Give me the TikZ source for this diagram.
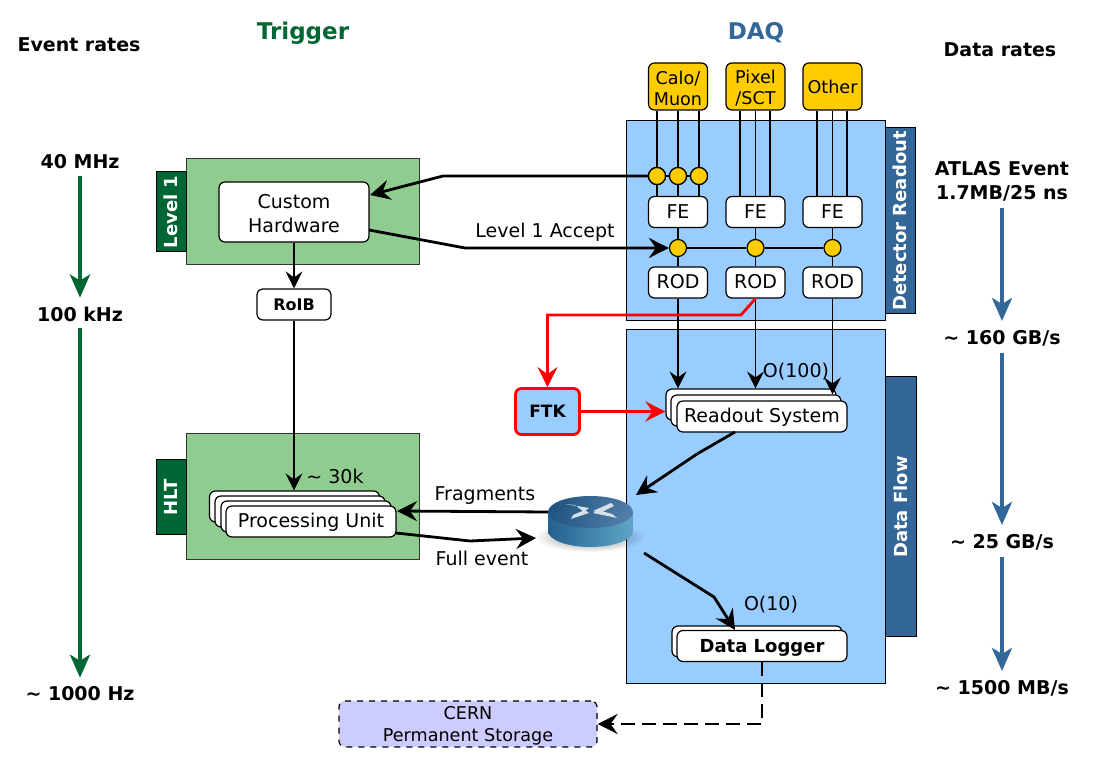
\documentclass[tikz,border=0pt]{standalone}
\usepackage{xcolor}
\usepackage{fontspec}
\setmainfont{DejaVu Sans}
\usetikzlibrary{arrows.meta,fadings}
\definecolor{panelblue}{HTML}{99CCFF}
\definecolor{panelgreen}{HTML}{90CC90}
\definecolor{tabgreen}{HTML}{006633}
\definecolor{tabblue}{HTML}{336699}
\definecolor{chipyellow}{HTML}{FFCC00}
\definecolor{storelilac}{HTML}{CCCCFF}
\definecolor{routerlight}{HTML}{5FA6C6}
\definecolor{routerdark}{HTML}{24608F}
\tikzfading[name=routerfuzz,inner color=transparent!50,outer color=transparent!100]
\newcommand{\txt}{\fontsize{9.5}{12}\selectfont}
\tikzset{
  box/.style={draw=black,fill=white,rounded corners=3pt,inner sep=0pt,line width=0.6pt,align=center,font=\txt},
  srcbox/.style={box,fill=chipyellow,minimum width=29.5pt,minimum height=23.5pt,font=\fontsize{8.8}{10.5}\selectfont},
  febox/.style={box,minimum width=29.5pt,minimum height=15.5pt,text height=7.5pt,text depth=1pt},
  joint/.style={circle,draw=black,fill=chipyellow,inner sep=0pt,minimum size=8.5pt,line width=0.6pt},
  stackbox/.style={box,minimum width=85pt,minimum height=15.5pt,text height=7.5pt,text depth=1pt},
  bluepanel/.style={draw=black,fill=panelblue,line width=0.5pt},
  greenpanel/.style={draw=black!80,fill=panelgreen,line width=0.5pt},
  sidetab/.style={draw=black,line width=0.5pt,text=white,font=\fontsize{9}{11}\selectfont\bfseries,rotate=90,inner sep=0pt},
  rate/.style={font=\txt\bfseries},
  thin arrow/.style={line width=0.6pt,-{Stealth[length=8.5pt,width=8.5pt,inset=3pt]}},
  thick arrow/.style={line width=1.4pt,-{Stealth[length=10pt,width=10pt,inset=3.5pt]}},
  red arrow/.style={red,line width=1.4pt,-{Stealth[length=10pt,width=10pt,inset=3.5pt]}},
  rate arrow/.style={line width=2pt,shorten >=1pt,-{Stealth[length=11.5pt,width=10pt,inset=3pt]}},
}
\begin{document}
\begin{tikzpicture}[x=0.5pt,y=-0.5pt]
\useasboundingbox (0,0) rectangle (1100,764);
% panels
\draw[bluepanel] (626,121) rectangle (885,321);
\draw[bluepanel] (626,330) rectangle (885,684);
\draw[greenpanel] (186,159) rectangle (419,265);
\draw[greenpanel] (186,434) rectangle (419,560);
\node[sidetab,fill=tabblue,minimum width=93pt,minimum height=15pt] (readouttab) at (900,221) {Detector Readout};
\node[sidetab,fill=tabblue,minimum width=130pt,minimum height=15.5pt] (flowtab) at (900.5,507) {Data Flow};
\node[sidetab,fill=tabgreen,minimum width=40pt,minimum height=15pt] (level1tab) at (171,212) {Level 1};
\node[sidetab,fill=tabgreen,minimum width=37.5pt,minimum height=15pt] (hlttab) at (171,497.5) {HLT};
% titles and rates
\node[font=\fontsize{11.5}{14}\selectfont\bfseries,text=tabgreen] (trigger) at (303,33) {Trigger};
\node[font=\fontsize{11.5}{14}\selectfont\bfseries,text=tabblue] (daq) at (756,33) {DAQ};
\node[rate] (eventrates) at (79,45) {Event rates};
\node[rate] (datarates) at (1000,50) {Data rates};
\node[rate] (r40) at (80,162) {40 MHz};
\node[rate] (r100) at (80,314) {100 kHz};
\node[rate] (r1000) at (80,694) {\textasciitilde{} 1000 Hz};
\node[rate,align=center,text height=20pt] (atlas) at (1002,180) {ATLAS Event\\1.7MB/25 ns};
\node[rate] (r160) at (1002,338) {\textasciitilde{} 160 GB/s};
\node[rate] (r25) at (1002,542) {\textasciitilde{} 25 GB/s};
\node[rate] (r1500) at (1002,688) {\textasciitilde{} 1500 MB/s};
\draw[rate arrow,tabgreen] (r40.south) -- (r100.north);
\draw[rate arrow,tabgreen] (r100.south) -- (r1000.north);
\draw[rate arrow,tabblue] (atlas.south) -- (r160.north);
\draw[rate arrow,tabblue] (r160.south) -- (r25.north);
\draw[rate arrow,tabblue] (r25.south) -- (r1500.north);
% readout chain
\node[srcbox,text height=19pt] (calo) at (678,86.5) {Calo/\\Muon};
\node[srcbox,text height=19pt] (pixel) at (755.5,86.5) {Pixel\\/SCT};
\node[srcbox] (other) at (832.5,86.5) {Other};
\node[febox] (fe1) at (678,212) {FE};
\node[febox] (fe2) at (755.5,212) {FE};
\node[febox] (fe3) at (832.5,212) {FE};
\node[febox] (rod1) at (678,282.5) {ROD};
\node[febox] (rod2) at (755.5,282.5) {ROD};
\node[febox] (rod3) at (832.5,282.5) {ROD};
\node[joint] (c1) at (657,176) {};
\node[joint] (c2) at (678,176) {};
\node[joint] (c3) at (699,176) {};
\node[joint] (m1) at (678,248) {};
\node[joint] (m2) at (755.5,248) {};
\node[joint] (m3) at (832.5,248) {};
\draw[line width=0.6pt] (c1 |- calo.south) -- (c1) -- (c1 |- fe1.north);
\draw[line width=0.6pt] (c2 |- calo.south) -- (c2) -- (c2 |- fe1.north);
\draw[line width=0.6pt] (c3 |- calo.south) -- (c3) -- (c3 |- fe1.north);
\draw[line width=0.6pt] (c1) -- (c2) -- (c3);
\node[joint] at (c1) {};
\node[joint] at (c2) {};
\node[joint] at (c3) {};
\coordinate (p1) at (740,120);
\coordinate (p3) at (770,120);
\coordinate (o1) at (817,120);
\coordinate (o3) at (847,120);
\draw[line width=0.6pt] (p1 |- pixel.south) -- (p1 |- fe2.north);
\draw[line width=0.6pt] (pixel) -- (fe2);
\draw[line width=0.6pt] (p3 |- pixel.south) -- (p3 |- fe2.north);
\draw[line width=0.6pt] (o1 |- other.south) -- (o1 |- fe3.north);
\draw[line width=0.6pt] (other) -- (fe3);
\draw[line width=0.6pt] (o3 |- other.south) -- (o3 |- fe3.north);
\draw[line width=0.6pt] (fe1) -- (m1) -- (rod1);
\draw[line width=0.6pt] (fe2) -- (m2) -- (rod2);
\draw[line width=0.6pt] (fe3) -- (m3) -- (rod3);
\draw[line width=0.6pt] (m1) -- (m2) -- (m3);
% readout system and logger
\node[stackbox] (rosa) at (751,404.5) {};
\node[stackbox] (rosb) at (756,410.5) {};
\node[stackbox] (ros) at (762,416.5) {Readout System};
\node[stackbox] (logb) at (757,641.5) {};
\node[stackbox,font=\fontsize{9}{11}\selectfont\bfseries] (logger) at (762,646) {Data Logger};
\draw[thin arrow] (rod1) -- (rod1 |- rosa.north);
\draw[thin arrow] (rod2) -- (rod2 |- rosa.north);
\draw[thin arrow] (rod3) -- (rod3 |- rosb.north);
\node (o100) at (796,372) {\txt O(100)};
\node (o10) at (771,605) {\txt O(10)};
% trigger side
\node[box,minimum width=75pt,minimum height=30pt,text height=21pt] (hw) at (294,212) {Custom\\Hardware};
\node[box,minimum width=37pt,minimum height=15.5pt,font=\fontsize{8}{10}\selectfont\bfseries] (roib) at (294,304.5) {RoIB};
\node[stackbox] (pua) at (294.5,506.5) {};
\node[stackbox] (pub) at (300,511.5) {};
\node[stackbox] (puc) at (306,516.5) {};
\node[stackbox] (pu) at (311,521.5) {Processing Unit};
\draw[thin arrow] (hw) -- (roib);
\draw[thin arrow] (roib) -- (roib |- pua.north);
\node (k30) at (335,476) {\txt \textasciitilde{} 30k};
% hardware links
\coordinate (hwin) at (370,195);
\coordinate (hwbend) at (443,176);
\coordinate (hwout) at (369,230);
\coordinate (acceptbend) at (465,248);
\draw[thick arrow] (c1) -- (hwbend) -- (hwin);
\node[joint] at (c1) {};
\draw[thick arrow] (hwout) -- (acceptbend) -- (m1.west);
\node (accept) at (545,232) {\txt Level 1 Accept};
% FTK
\node[box,draw=red,fill=panelblue,line width=1.4pt,minimum width=32pt,minimum height=23pt,font=\fontsize{8.5}{10}\selectfont\bfseries] (ftk) at (547.5,411.5) {FTK};
\coordinate (redstart) at (rod2.south);
\coordinate (redbend) at (741,315);
\coordinate (redcorner) at (ftk.north |- redbend);
\draw[red arrow] (redstart) -- (redbend) -- (redcorner) -- (ftk.north);
\draw[red arrow] (ftk.east) -- (rosa.west |- ftk.east);
% router
\node[fill=none,draw=none,inner sep=0pt,minimum width=43pt,minimum height=26pt] (router) at (590.5,521) {};
\fill[black,path fading=routerfuzz] (590,537) ellipse (55 and 15);
\shade[left color=routerdark,right color=routerlight] (548,512) -- (548,531) arc[start angle=180,end angle=0,x radius=42.5,y radius=16] -- (633,512) -- cycle;
\shade[left color=routerdark!90!black,right color=tabblue!85!white,shading angle=70] (590.5,512) ellipse (42.5 and 16);
\fill[white!80!tabblue] (565,504) -- (589,508) -- (584,512) -- (575,505) -- cycle;
\fill[white!80!tabblue] (611,503) -- (593,511) -- (600,513) -- (614,506) -- cycle;
\fill[white!80!tabblue] (571,519) -- (589,513) -- (585,510) -- (573,515) -- cycle;
\fill[white!80!tabblue] (617,518) -- (593,513) -- (598,510) -- (612,514) -- cycle;
\coordinate (rosout) at (735,432);
\coordinate (rosbend) at (697,454);
\coordinate (rtin) at (636,495);
\coordinate (rtout) at (644,553);
\coordinate (logbend) at (714,597);
\coordinate (logtip) at (735,630);
\coordinate (fragstart) at (548,512);
\coordinate (putip) at (397,511);
\coordinate (puout) at (396,533);
\coordinate (fullbend) at (470,541);
\coordinate (fullend) at (536,538);
\draw[thick arrow] (rosout) -- (rosbend) -- (rtin);
\draw[thick arrow] (rtout) -- (logbend) -- (logtip);
\draw[thick arrow] (fragstart) -- (putip);
\draw[thick arrow] (puout) -- (fullbend) -- (fullend);
\node (fragments) at (485,496) {\txt Fragments};
\node (fullevent) at (482,558) {\txt Full event};
% storage
\node[box,dashed,fill=storelilac,line width=0.6pt,minimum width=129pt,minimum height=23pt,text height=19pt,font=\fontsize{8.8}{11}\selectfont] (cern) at (468,724) {CERN\\Permanent Storage};
\coordinate (logcorner) at (logger.south |- cern.east);
\draw[thick arrow,dash pattern=on 7pt off 3.5pt] (logger.south) -- (logcorner) -- (cern.east);
\end{tikzpicture}
\end{document}
